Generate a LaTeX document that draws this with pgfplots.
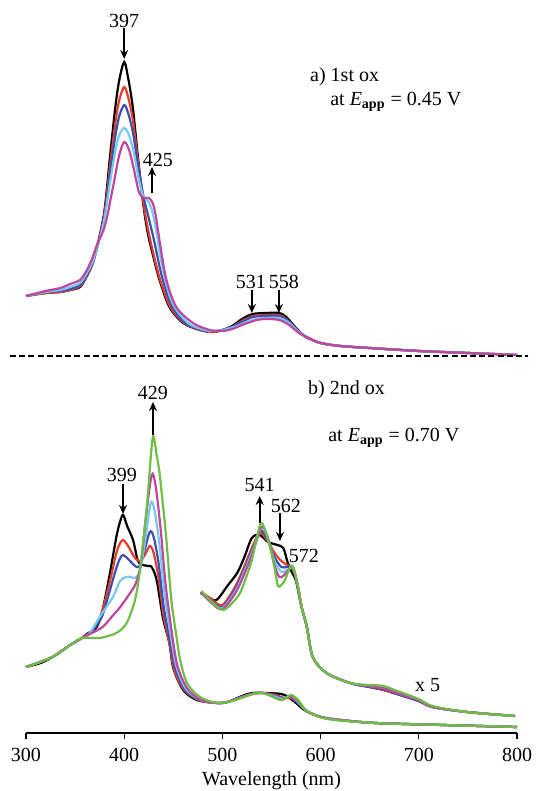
\documentclass[border=0pt]{standalone}
\usepackage{fontspec}
\setmainfont{Liberation Serif}
\usepackage{pgfplots}
\pgfplotsset{compat=1.18}
\usetikzlibrary{arrows.meta}

\definecolor{cred}{RGB}{230,60,40}
\definecolor{cblue}{RGB}{60,80,180}
\definecolor{ccyan}{RGB}{120,200,235}
\definecolor{cpink}{RGB}{190,70,160}
\definecolor{cgreen}{RGB}{110,190,70}

\begin{document}
\fontsize{10}{12}\selectfont
\begin{tikzpicture}
\begin{axis}[
    at={(0,0)}, anchor=south west,
    scale only axis,
    width=245.5pt, height=366.5pt,
    xmin=300, xmax=800, ymin=0, ymax=733,
    axis x line=bottom, axis y line=none,
    axis line style={-, line width=0.6pt},
    xtick={300,400,...,800},
    tick align=outside, major tick length=3pt,
    tick style={line width=0.6pt, black},
    /pgf/number format/assume math mode=true,
    xticklabel style={font=\fontsize{10}{12}\selectfont, yshift=-1pt},
    xlabel={Wavelength (nm)},
    xlabel style={font=\fontsize{10}{12}\selectfont, yshift=2pt},
    clip=false,
    every axis plot/.append style={line width=1.1pt, smooth, no markers},
]
% ---------- a) 1st ox ----------
\addplot [black] coordinates {
 (300,437) (320,440) (335,441) (345,443) (355,446) (362,457) (368,470) (374,493)
 (380,523) (385.5,576) (391,626) (395,653) (400,671) (404,655) (408.7,626) (414,576)
 (419.5,528) (424,500) (430,475) (436,453) (446,426) (460,410) (477,403) (490,401)
 (500,403) (510,407) (520,414) (531,419) (545,420) (558,420) (565,416) (575,405)
 (585,396) (600,390) (620,387) (650,385) (700,382) (750,380) (800,378)
};
\addplot [cred] coordinates {
 (300,437) (320,440) (335,441) (345,443) (355,447) (362,457) (368,470) (374,492)
 (380,520) (385.5,567) (391,610) (395,633) (400,646) (404,636) (409,612) (414,572)
 (419.5,530) (425,500) (431,474) (437,452) (447,426) (461,410) (478,403) (490,401)
 (500,403) (510,406) (520,412) (531,417) (545,418) (558,418) (565,414) (575,404)
 (585,396) (600,390) (620,387) (650,385) (700,382) (750,380) (800,378)
};
\addplot [cblue] coordinates {
 (300,437) (320,441) (335,442) (345,444) (355,448) (362,458) (368,471) (374,491)
 (380,517) (385.5,560) (391,597) (395,617) (400,628) (404,620) (409,600) (414,568)
 (420,535) (425,515) (431,490) (438,458) (448,428) (462,410) (480,403) (490,402)
 (500,403) (510,406) (520,411) (531,416) (545,417) (558,417) (567,412) (577,402)
 (588,395) (600,390) (620,387) (650,385) (700,382) (750,380) (800,378)
};
\addplot [ccyan] coordinates {
 (300,437) (320,441) (335,443) (345,446) (355,450) (362,460) (368,472) (374,490)
 (380,515) (385.5,550) (391,582) (395,598) (400,605) (404,600) (409,584) (414,558)
 (419,538) (425,531) (429,520) (433,500) (439,465) (449,430) (465,410) (482,403)
 (495,402) (505,404) (515,407) (525,411) (535,414) (545,415) (558,415) (568,410)
 (578,401) (590,394) (600,390) (620,387) (650,385) (700,382) (750,380) (800,378)
};
\addplot [cpink] coordinates {
 (300,437) (320,442) (335,445) (345,449) (355,453) (362,463) (368,476) (373,490)
 (379,503) (383,518) (386,533) (390,553) (395,578) (400,591) (405,583) (410,563)
 (415,541) (420,535) (425,535) (429,530) (432,518) (437,486) (443,453) (453,426)
 (470,410) (487,403) (500,402) (510,404) (520,408) (535,413) (545,414) (558,413)
 (568,408) (578,400) (590,394) (600,390) (620,387) (650,385) (700,382) (750,380) (800,378)
};
% separator
\draw [black, line width=1pt, dash pattern=on 3pt off 1.6pt] (283.7,377) -- (811,377);
% ---------- b) 2nd ox, main spectra ----------
\addplot [black] coordinates {
 (300,66) (315,70) (327,76) (345,88) (357,95) (362,99) (372,106) (378,123)
 (385.5,160) (392,196) (396,212) (399,218) (403,207) (409,193) (414,172) (419,168)
 (425,167) (428,166) (433,153) (439.5,115) (446,90) (450,65) (460,43) (474,33)
 (494,30) (505,31) (520,37) (530,40) (545,40) (560,39) (567,36) (575,30) (585,22)
 (600,16) (620,13) (656,10) (725,8) (800,6)
};
\addplot [cred] coordinates {
 (300,66) (327,76) (345,88) (357,95) (365,100) (372,109) (378,123) (385.5,152)
 (392,180) (396,190) (399,193) (404,187) (411,175) (416,172) (421,178) (426,187)
 (430,180) (435,155) (440,118) (446,90) (451,63) (461,43) (476,33) (495,30)
 (505,31) (520,36) (530,39) (541,40) (555,38) (562,35) (570,35) (577,30) (586,22)
 (600,16) (620,13) (656,10) (725,8) (800,6)
};
\addplot [cblue] coordinates {
 (300,66) (327,76) (345,88) (357,95) (365,100) (372,108) (378,118) (385.5,143)
 (392,165) (396,175) (399,178) (404,174) (410,168) (415,166) (420,180) (426,201)
 (430,196) (435,170) (440,128) (446,95) (452,65) (462,43) (477,33) (495,30)
 (505,31) (520,36) (530,39) (541,40) (555,37) (562,35) (570,36) (577,30) (586,22)
 (600,16) (620,13) (656,10) (725,8) (800,6)
};
\addplot [ccyan] coordinates {
 (300,66) (327,76) (345,88) (357,95) (365,100) (375,116) (388.6,136) (395.7,152)
 (402,156) (407,156) (411,155) (416,162) (421,190) (427,230) (431,222) (436,188)
 (441,140) (447,100) (453,67) (463,44) (478,33) (495,30) (505,31) (520,36)
 (530,39) (541,40) (555,36) (562,34) (570,37) (577,31) (586,22)
 (600,16) (620,13) (656,10) (725,8) (800,6)
};
\addplot [cpink] coordinates {
 (300,66) (327,76) (345,88) (357,95) (365,99) (378,106) (388,117) (396,126)
 (406,140) (412,150) (417,170) (422,215) (428,258) (432,247) (437,205) (442,150)
 (448,104) (454,68) (464,45) (478,33) (495,30) (505,31) (520,36) (530,39)
 (541,40) (552,36) (560,33) (570,37) (578,31) (586,22)
 (600,16) (620,13) (656,10) (725,8) (800,6)
};
\addplot [cgreen] coordinates {
 (300,66) (327,76) (345,88) (357,95) (375,95) (392,100) (402.5,110) (411,133)
 (416,163) (423,226) (429,295) (433,278) (436,260) (440,223) (443,193) (448,133)
 (453,98) (457,73) (464,50) (477,36) (495,30) (510,32) (525,37) (535,40) (541,40)
 (550,37) (560,33) (570,38) (578,32) (586,22) (607,14) (656,10) (725,8) (800,6)
};
% ---------- b) x 5 expansion ----------
\addplot [black] coordinates {
 (478,140) (485,136) (494,133) (505,147) (515,160) (522,175) (530,195) (538,198)
 (546.5,191) (556,188) (562,185) (566,172) (570,162) (575,152) (580,128) (586,106)
 (592,76) (606,60) (630,50) (650,46) (664,43) (681,38) (700,32) (714,26) (749,21) (798,17)
};
\addplot [cred] coordinates {
 (478,141) (489,134) (500,128) (515,150) (530,185) (538,200) (546,192) (553,180)
 (560,172) (566,168) (572,164) (577,146) (580.7,126) (586,106)
 (592,76) (606,60) (630,50) (650,46) (664,43) (681,38) (700,32) (714,26) (749,21) (798,17)
};
\addplot [cblue] coordinates {
 (478,141) (489,132) (500,126) (515,147) (530,182) (539,202) (546,193) (553,176)
 (560,166) (566,166) (572,165) (577,146) (580.7,126) (586,106)
 (592,76) (606,60) (630,50) (650,46) (664,44) (681,38) (700,32) (714,26) (749,21) (798,17)
};
\addplot [ccyan] coordinates {
 (478,141) (489,131) (500,125) (515,145) (530,180) (540,205) (547,193) (553,172)
 (560,161) (566,163) (572,165) (577,146) (580.7,126) (586,106)
 (592,76) (606,60) (630,50) (650,47) (664,45) (681,39) (700,33) (714,26) (749,21) (798,17)
};
\addplot [cpink] coordinates {
 (478,141) (489,130) (500,124) (515,143) (530,178) (540,206) (547,193) (553,168)
 (558,156) (563,158) (569,165) (572,166) (577,146) (580.7,126) (586,106)
 (592,76) (606,60) (630,50) (650,47) (664,45) (681,39) (700,33) (714,26) (749,21) (798,17)
};
\addplot [cgreen] coordinates {
 (479,142) (490,130) (500.7,123) (510,130) (518,140) (525,158) (530,173) (535,195)
 (538.3,208) (541,209) (546.5,193) (550,180) (553.5,163) (556.6,147) (560,148)
 (563.7,153) (568.8,165) (572,166) (577,146) (580.7,126) (586,106) (592,76) (606,60)
 (630,50) (650,48) (664,47) (681,41) (700,34) (714,27) (749,21) (798,17)
};
% ---------- annotations ----------
\tikzset{pk/.style={-{Stealth[length=4.5pt,width=4pt]}, line width=0.8pt, black}}
\node at (400,712) {397};
\draw [pk] (400,705) -- (400,674);
\node at (434.4,573) {425};
\draw [pk] (428.3,540) -- (428.3,566);
\node at (529,451) {531};
\draw [pk] (530,443) -- (530,420);
\node at (562.7,451) {558};
\draw [pk] (557.6,443) -- (557.6,420);
\node [anchor=base west, inner sep=0pt] at (589,651) {a) 1st ox};
\node [anchor=base west, inner sep=0pt] at (609.5,627) {at \textit{E}\textsubscript{\textbf{app}} = 0.45 V};

\node at (429.3,340) {429};
\draw [pk] (429.3,298) -- (429.3,331);
\node at (397.7,258) {399};
\draw [pk] (398.8,249) -- (398.8,219);
\node at (538,248) {541};
\draw [pk] (538,210) -- (538,237);
\node at (564.7,227) {562};
\draw [pk] (558.6,220) -- (558.6,192);
\node at (583,177) {572};
\node [anchor=base west, inner sep=0pt] at (587,338) {b) 2nd ox};
\node [anchor=base west, inner sep=0pt] at (607.5,291) {at \textit{E}\textsubscript{\textbf{app}} = 0.70 V};
\node at (709,48) {x 5};
\end{axis}
\pgfresetboundingbox
\useasboundingbox (-13pt,-29pt) rectangle (254.5pt,366.5pt);
\end{tikzpicture}
\end{document}
